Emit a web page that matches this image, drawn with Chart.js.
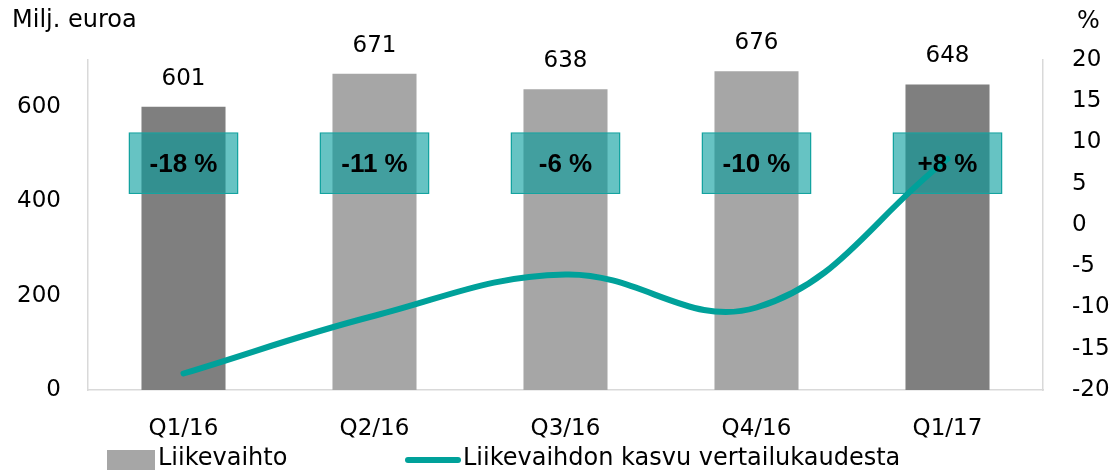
<!DOCTYPE html>
<html lang="fi">
<head>
<meta charset="UTF-8">
<title>Liikevaihto ja kasvu</title>
<script src="https://cdn.jsdelivr.net/npm/chart.js"></script>
<style>
    html, body { margin: 0; padding: 0; background: #fff; }
</style>
</head>
<body>
<canvas id="salesChart" width="1115" height="470"></canvas>
<script>
// data
const quarters = ['Q1/16', 'Q2/16', 'Q3/16', 'Q4/16', 'Q1/17'];
const revenue = [601, 671, 638, 676, 648];          // Milj. euroa
const growth = [-18, -11, -6, -10, 8];              // % vs. comparison period
const seriesNames = ['Liikevaihto', 'Liikevaihdon kasvu vertailukaudesta'];

const TEAL = '#00a19a';
const DARK = '#7f7f7f';
const LIGHT = '#a6a6a6';
const FONT = '"DejaVu Sans", sans-serif';

// first and last quarter drawn darker
const barColors = quarters.map((q, i) => (i === 0 || i === quarters.length - 1) ? DARK : LIGHT);
// label boxes sit in the same band for every quarter (left axis units)
const boxBand = quarters.map(() => [416, 547]);

function pct(v) {
    return (v > 0 ? '+' : '') + v + ' %';
}

const labelPlugin = {
    id: 'labelPlugin',
    afterDatasetsDraw(chart) {
        const ctx = chart.ctx;
        ctx.save();
        ctx.fillStyle = '#000';
        ctx.textAlign = 'center';
        ctx.textBaseline = 'middle';

        // values above the bars
        ctx.font = '23px ' + FONT;
        chart.getDatasetMeta(0).data.forEach((bar, i) => {
            ctx.fillText(revenue[i], bar.x, bar.y - 28);
        });

        // growth text inside the teal boxes
        ctx.font = 'bold 26px "Liberation Sans", Arial, sans-serif';
        chart.getDatasetMeta(1).data.forEach((box, i) => {
            ctx.fillText(pct(growth[i]), box.x, (box.y + box.base) / 2 + 2);
        });
        ctx.restore();
    },
    afterDraw(chart) {
        const ctx = chart.ctx;
        ctx.save();
        ctx.fillStyle = '#000';
        ctx.textBaseline = 'middle';
        ctx.font = '24px ' + FONT;

        // axis titles
        ctx.textAlign = 'left';
        ctx.fillText('Milj. euroa', 12, 21);
        ctx.fillText('%', 1077, 22);

        // legend
        ctx.fillStyle = LIGHT;
        ctx.fillRect(107, 450, 48, 22);
        ctx.fillStyle = '#000';
        ctx.fillText(seriesNames[0], 158, 459);

        ctx.strokeStyle = TEAL;
        ctx.lineWidth = 6;
        ctx.lineCap = 'round';
        ctx.beginPath();
        ctx.moveTo(408, 460);
        ctx.lineTo(458, 460);
        ctx.stroke();
        ctx.fillText(seriesNames[1], 463, 459);
        ctx.restore();
    }
};

const ctx = document.getElementById('salesChart').getContext('2d');

const salesChart = new Chart(ctx, {
    data: {
        labels: quarters,
        datasets: [
            {
                type: 'bar',
                label: seriesNames[0],
                data: revenue,
                backgroundColor: barColors,
                borderWidth: 0,
                barPercentage: 0.44,
                categoryPercentage: 1,
                grouped: false,
                yAxisID: 'y',
                order: 3
            },
            {
                type: 'bar',
                label: 'box',
                data: boxBand,
                backgroundColor: 'rgba(0, 155, 155, 0.6)',
                borderColor: '#14a3a0',
                borderWidth: 1.5,
                borderSkipped: false,
                barPercentage: 0.576,
                categoryPercentage: 1,
                grouped: false,
                yAxisID: 'y',
                order: 2
            },
            {
                type: 'line',
                label: seriesNames[1],
                data: growth,
                borderColor: TEAL,
                borderWidth: 6,
                borderCapStyle: 'round',
                tension: 0.4,
                pointRadius: 0,
                fill: false,
                yAxisID: 'y1',
                order: 1
            }
        ]
    },
    options: {
        responsive: false,
        animation: false,
        devicePixelRatio: 1,
        layout: {
            padding: { top: 60, left: 0, right: 0, bottom: 0 }
        },
        plugins: {
            legend: { display: false },
            tooltip: { enabled: false }
        },
        scales: {
            x: {
                grid: { display: false, drawTicks: false },
                border: { display: true, color: '#d9d9d9', width: 1.5 },
                ticks: { color: '#000', font: { family: FONT, size: 23 }, padding: 25 },
                afterFit(scale) { scale.height = 80; }
            },
            y: {
                position: 'left',
                min: 0,
                max: 700,
                grid: { display: false, drawTicks: false },
                border: { display: true, color: '#d9d9d9', width: 1.5 },
                ticks: { stepSize: 200, color: '#000', font: { family: FONT, size: 23 }, padding: 27 },
                afterBuildTicks(scale) {
                    scale.ticks = scale.ticks.filter(t => t.value % 200 === 0);
                },
                afterFit(scale) { scale.width = 88; }
            },
            y1: {
                position: 'right',
                min: -20,
                max: 20,
                grid: { display: false, drawTicks: false },
                border: { display: true, color: '#d9d9d9', width: 1.5 },
                ticks: { stepSize: 5, color: '#000', font: { family: FONT, size: 23 }, padding: 29 },
                afterFit(scale) { scale.width = 72; }
            }
        }
    },
    plugins: [labelPlugin]
});
</script>
</body>
</html>
